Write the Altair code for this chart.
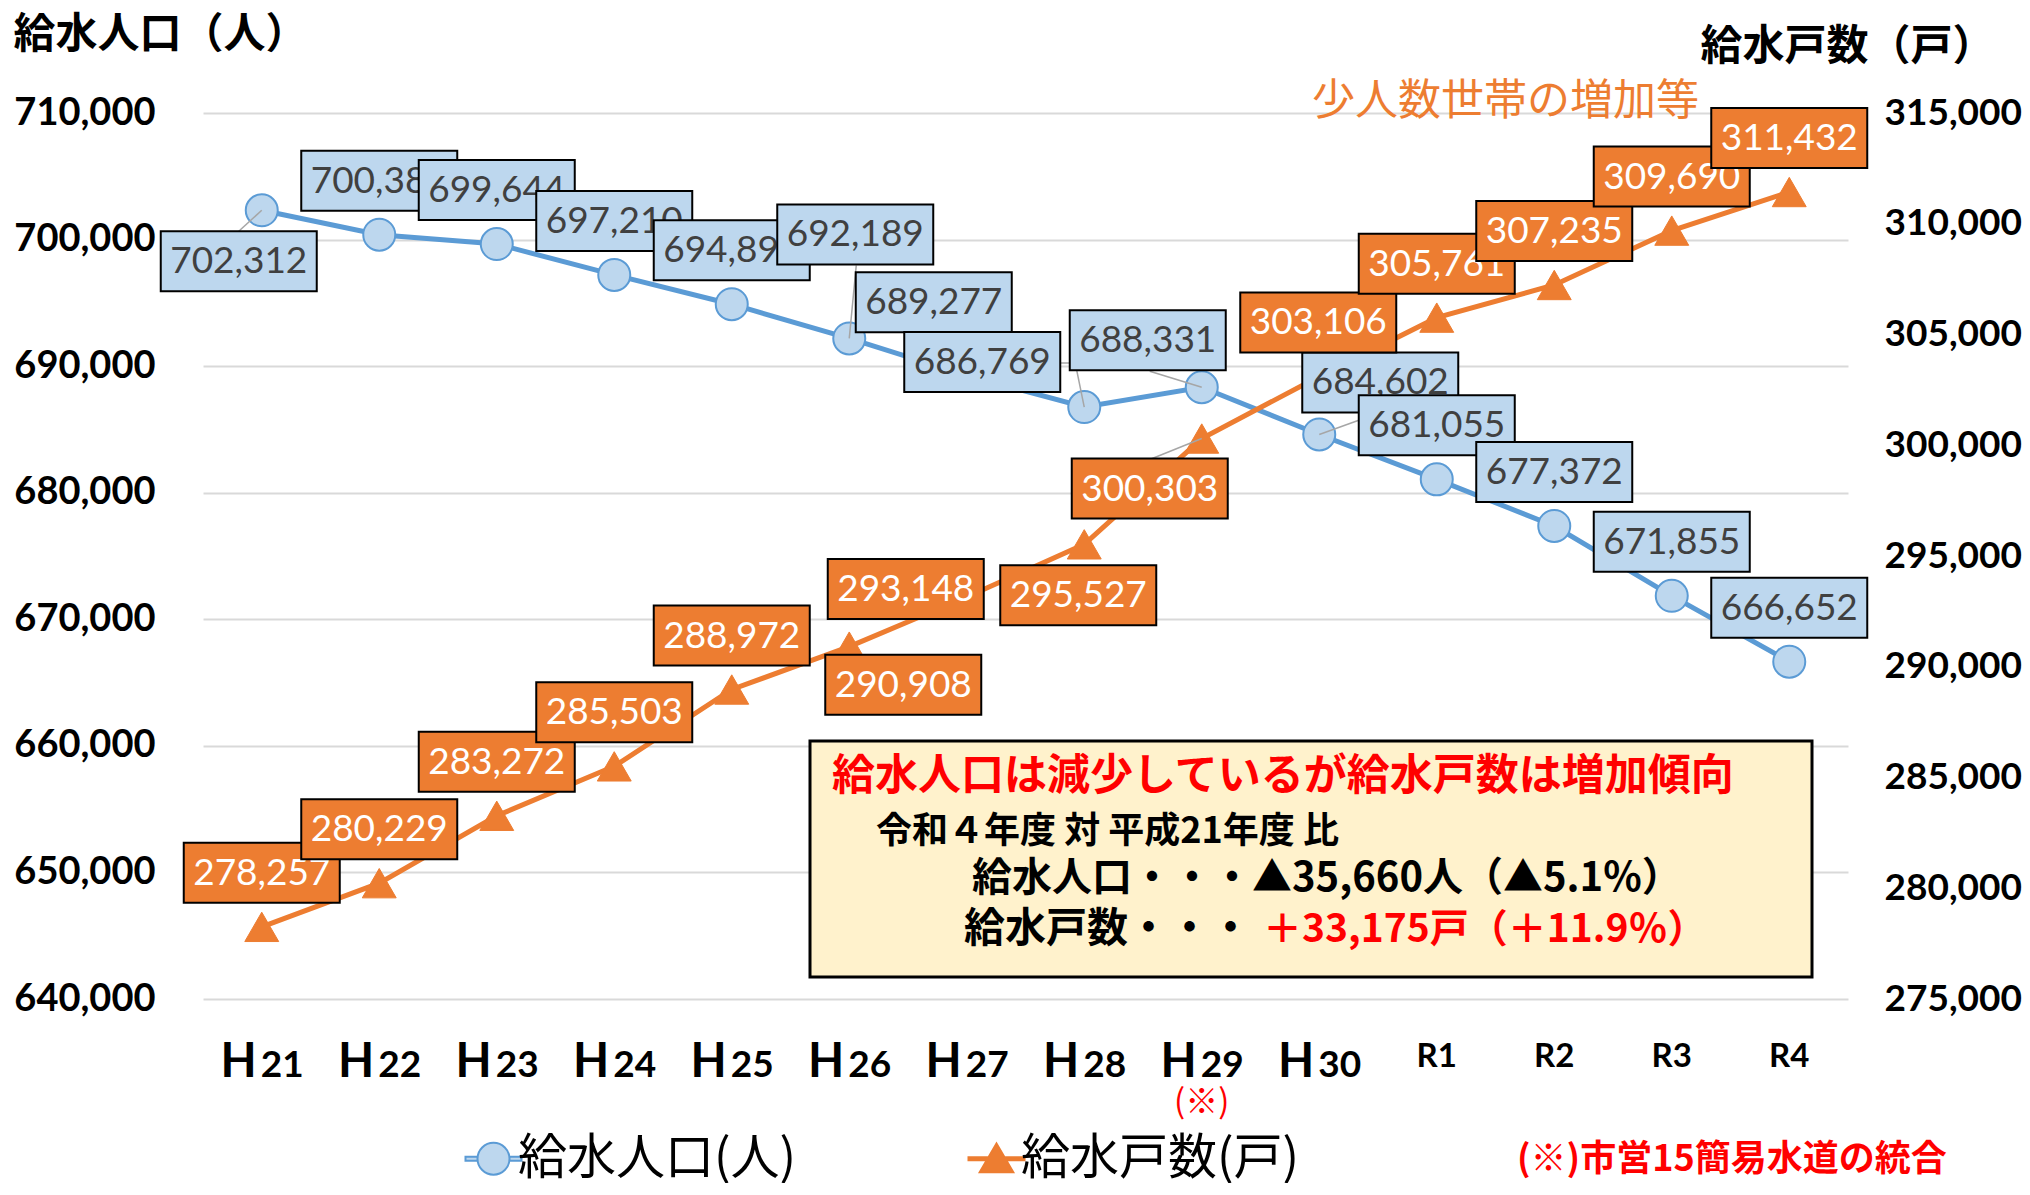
import altair as alt
import pandas as pd

# ---------------- data ----------------
categories = ["H21", "H22", "H23", "H24", "H25", "H26", "H27", "H28", "H29", "H30", "R1", "R2", "R3", "R4"]
population = [702312, 700385, 699644, 697210, 694893, 692189, 689277, 686769, 688331, 684602, 681055, 677372, 671855, 666652]
households = [278257, 280229, 283272, 285503, 288972, 290908, 293148, 295527, 300303, 303106, 305761, 307235, 309690, 311432]
series_names = ["給水人口(人)", "給水戸数(戸)"]

pop_ticks = [640000, 650000, 660000, 670000, 680000, 690000, 700000, 710000]
hh_ticks = [275000, 280000, 285000, 290000, 295000, 300000, 305000, 310000, 315000]

pop_title = "給水人口（人）"
hh_title = "給水戸数（戸）"
note_mark = "(※)"
note_index = 8
annotation = "少人数世帯の増加等"
summary_head = "給水人口は減少しているが給水戸数は増加傾向"
summary_sub = "令和４年度 対 平成21年度 比"
summary_pop = "給水人口・・・▲35,660人（▲5.1%）"
summary_hh_a = "給水戸数・・・"
summary_hh_b = "＋33,175戸（＋11.9％）"
footnote = "(※)市営15簡易水道の統合"

# label placement (pixel offsets of each data label from its point)
pop_label_dx = [-23, 0, 0, 0, 0, 6, -33, -102, -54, 61, 0, 0, 0, 0]
pop_label_dy = [51, -54, -54, -54, -54, -104, -73, -45, -47, -52, -54, -54, -54, -54]
hh_label_dx = [0, 0, 0, 0, 0, 54, -61, -6, -52, -1, 0, 0, 0, 0]
hh_label_dy = [-54, -54, -54, -54, -54, 38, -8, 51, 50, -54, -54, -54, -54, -54]
pop_leaders = {0: "M0,0L-23,21", 5: "M0,0L7,-73", 7: "M0,0L-9,-44L-24,-44", 8: "M0,0L-52,-16", 9: "M0,0L61,-22"}
hh_leaders = {8: "M0,0L-52,21"}

# ---------------- style ----------------
W, H = 1645, 886
BLUE = "#5B9BD5"
LBLUE = "#BDD7EE"
ORANGE = "#ED7D31"
LEADER = "#A6A6A6"
RED = "#FF0000"
LATO = "Lato"
JP = "Noto Sans CJK JP"

CIRCLE_STUB = "M-1.75,-0.12H-1V0.12H-1.75Z M1,-0.12H1.75V0.12H1Z M-1,0A1,1 0 1,1 1,0A1,1 0 1,1 -1,0Z"
TRI_STUB = "M-1.75,-0.1H-0.6V0.1H-1.75Z M0.6,-0.1H1.75V0.1H0.6Z M0,-0.95L1.05,0.85L-1.05,0.85Z"

df_pop = pd.DataFrame({"i": list(range(len(categories))), "cat": categories, "value": population})
df_hh = pd.DataFrame({"i": list(range(len(categories))), "cat": categories, "value": households})

X = alt.X("i:Q", scale=alt.Scale(domain=[-0.5, len(categories) - 0.5], nice=False, zero=False), axis=None)

pop_scale = alt.Scale(domain=[pop_ticks[0], pop_ticks[-1]], nice=False, zero=False)
hh_scale = alt.Scale(domain=[hh_ticks[0], hh_ticks[-1]], nice=False, zero=False)

axis_common = dict(
    format=",.0f", labelFont=LATO, labelFontWeight="bold", labelColor="black",
    ticks=False, domain=False, titleFont=JP, titleFontSize=42, titleFontWeight="bold",
    titleColor="black", titleAngle=0, titleAlign="left", titleBaseline="top",
)
Y_pop = alt.Y("value:Q", scale=pop_scale, axis=alt.Axis(
    orient="left", values=pop_ticks, labelPadding=48, labelFontSize=38,
    grid=True, gridColor="#D9D9D9", gridWidth=2,
    title=pop_title, titleX=-190, titleY=-99, **axis_common))
Y_pop_na = alt.Y("value:Q", scale=pop_scale, axis=None)
Y_hh = alt.Y("value:Q", scale=hh_scale, axis=alt.Axis(
    orient="right", values=hh_ticks, labelPadding=36, labelFontSize=37, grid=False,
    title=hh_title, titleX=-148, titleY=-87, **axis_common))
Y_hh_na = alt.Y("value:Q", scale=hh_scale, axis=None)

LEG = alt.Legend(
    orient="none", legendX=266, legendY=1021, direction="horizontal", title=None,
    labelFont=JP, labelFontSize=49, labelColor="black", labelLimit=1000,
    symbolSize=1024, symbolStrokeWidth=2, labelOffset=0, columnPadding=167,
    padding=0, symbolOpacity=1,
)

legend_df = pd.DataFrame({"series": series_names, "i": [0, 0], "value": [population[0], population[0]]})
legend_layer = alt.Chart(legend_df).mark_point(filled=True, opacity=0).encode(
    x=X, y=Y_pop,
    fill=alt.Fill("series:N", scale=alt.Scale(domain=series_names, range=[LBLUE, ORANGE]), legend=LEG),
    stroke=alt.Stroke("series:N", scale=alt.Scale(domain=series_names, range=[BLUE, ORANGE]), legend=LEG),
    shape=alt.Shape("series:N", scale=alt.Scale(domain=series_names, range=[CIRCLE_STUB, TRI_STUB]), legend=LEG),
)

pop_base = alt.layer(
    alt.Chart(df_pop).mark_line(color=BLUE, strokeWidth=5).encode(x=X, y=Y_pop),
    alt.Chart(df_pop).mark_point(shape="circle", size=1024, filled=True, fill=LBLUE, stroke=BLUE,
                                 strokeWidth=2, opacity=1).encode(x=X, y=Y_pop),
    legend_layer,
)
hh_base = alt.layer(
    alt.Chart(df_hh).mark_line(color=ORANGE, strokeWidth=5).encode(x=X, y=Y_hh),
    alt.Chart(df_hh).mark_point(shape="triangle-up", size=1150, filled=True, fill=ORANGE, stroke=ORANGE,
                                strokeWidth=1, opacity=1).encode(x=X, y=Y_hh),
)


def label_layers(df, Yna, dxs, dys, leaders, fill, text_color):
    layers = []
    for k in range(len(df)):
        base = alt.Chart(df).transform_filter(alt.datum.i == k)
        dx, dy = dxs[k], dys[k]
        if k in leaders:
            layers.append(base.mark_point(shape=leaders[k], size=4, filled=False, stroke=LEADER,
                                          strokeWidth=1.5, opacity=1).encode(x=X, y=Yna))
        box = f"M{dx - 78},{dy - 30}h156v60h-156Z"
        layers.append(base.mark_point(shape=box, size=4, filled=True, fill=fill, stroke="black",
                                      strokeWidth=2, opacity=1).encode(x=X, y=Yna))
        layers.append(base.mark_text(dx=dx, dy=dy + 1, font=LATO, fontSize=37, color=text_color,
                                     align="center", baseline="middle").encode(
            x=X, y=Yna, text=alt.Text("value:Q", format=",")))
    return alt.layer(*layers)


pop_labels = label_layers(df_pop, Y_pop_na, pop_label_dx, pop_label_dy, pop_leaders, LBLUE, "#404040")
hh_labels = label_layers(df_hh, Y_hh_na, hh_label_dx, hh_label_dy, hh_leaders, ORANGE, "white")

# category labels
h_rows = [(i, c[0], c[1:]) for i, c in enumerate(categories) if c.startswith("H")]
r_rows = [(i, c) for i, c in enumerate(categories) if not c.startswith("H")]
hdf = pd.DataFrame({"i": [r[0] for r in h_rows], "prefix": [r[1] for r in h_rows], "num": [r[2] for r in h_rows]})
rdf = pd.DataFrame({"i": [r[0] for r in r_rows], "label": [r[1] for r in r_rows]})

x_h = alt.Chart(hdf).mark_text(align="right", baseline="alphabetic", font=LATO, fontWeight="bold",
                               fontSize=47, dx=-5, color="black").encode(x=X, y=alt.value(964), text="prefix:N")
x_num = alt.Chart(hdf).mark_text(align="left", baseline="alphabetic", font=LATO, fontWeight="bold",
                                 fontSize=37, dx=-1, color="black").encode(x=X, y=alt.value(964), text="num:N")
x_r = alt.Chart(rdf).mark_text(align="center", baseline="alphabetic", font=LATO, fontWeight="bold",
                               fontSize=33, color="black").encode(x=X, y=alt.value(954), text="label:N")
x_note = alt.Chart(pd.DataFrame({"i": [note_index], "t": [note_mark]})).mark_text(
    align="center", baseline="middle", font=JP, fontSize=33, color=RED).encode(
    x=X, y=alt.value(990), text="t:N")


def text_at(s, x, y, size, color, weight="bold"):
    return alt.Chart(pd.DataFrame({"t": [s]})).mark_text(
        align="left", baseline="middle", font=JP, fontSize=size, fontWeight=weight, color=color
    ).encode(x=alt.value(x), y=alt.value(y), text="t:N")


summary_rect = alt.Chart(pd.DataFrame({"k": [0]})).mark_rect(
    fill="#FFF2CC", stroke="black", strokeWidth=3).encode(
    x=alt.value(607), x2=alt.value(1609), y=alt.value(628), y2=alt.value(864))

chart = alt.layer(
    pop_base, hh_base, pop_labels, hh_labels,
    x_h, x_num, x_r, x_note,
    summary_rect,
    text_at(summary_head, 629, 664, 43, RED),
    text_at(summary_sub, 673, 719, 36, "black"),
    text_at(summary_pop, 769, 766, 40, "black"),
    text_at(summary_hh_a, 761, 817, 41, "black"),
    text_at(summary_hh_b, 1060, 817, 39, RED),
    text_at(annotation, 1109, -11, 43, ORANGE, weight="normal"),
    text_at(footnote, 1314, 1047, 36, RED),
).resolve_scale(y="independent").properties(
    width=W, height=H,
    padding={"left": 195, "top": 105, "right": 174, "bottom": 184},
    autosize=alt.AutoSizeParams(type="none"),
).configure_view(strokeWidth=0)

chart.save("out.html", embed_options={"renderer": "svg", "actions": False})
